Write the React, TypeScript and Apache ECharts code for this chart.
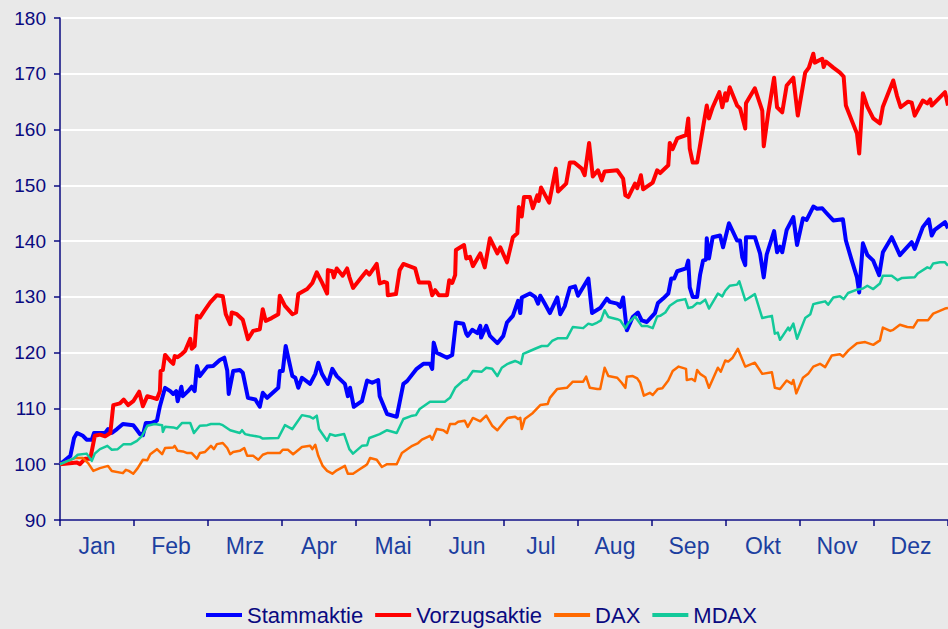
import React, { useEffect, useRef } from "react";
import * as echarts from "echarts";

// x = time in months since start of year (0..12), y = indexed value (start = 100)
const months = ["Jan", "Feb", "Mrz", "Apr", "Mai", "Jun", "Jul", "Aug", "Sep", "Okt", "Nov", "Dez"];
const yTicks = { min: 90, max: 180, step: 10 };

const stammaktie: [number, number][] = [
  [0, 100], [0.14, 101.5], [0.19, 104.7], [0.23, 105.6], [0.31, 105.1], [0.36, 104.4], [0.43, 104.4], [0.46, 105.6],
  [0.61, 105.6], [0.65, 106.3], [0.7, 105.6], [0.77, 106.3], [0.85, 107.2], [0.99, 107], [1.03, 106.3], [1.08, 105.4],
  [1.12, 105.2], [1.16, 107.4], [1.24, 107.4], [1.31, 107.8], [1.35, 110.4], [1.42, 113.7], [1.49, 113.1], [1.53, 112.6],
  [1.57, 113.1], [1.59, 111.3], [1.64, 113.9], [1.66, 112.2], [1.73, 113.1], [1.78, 113.9], [1.82, 113.1], [1.85, 117.6],
  [1.89, 115.8], [1.99, 117.5], [2.07, 117.6], [2.16, 118.7], [2.22, 119.1], [2.26, 116.8], [2.28, 112.6], [2.34, 116.7],
  [2.43, 116.9], [2.47, 116.4], [2.54, 111.9], [2.64, 111.6], [2.7, 110.3], [2.74, 112.8], [2.8, 111.9], [2.95, 113.7],
  [2.97, 116.7], [3.01, 116.7], [3.05, 121.2], [3.14, 115.8], [3.18, 115.5], [3.22, 113.7], [3.27, 115.5], [3.38, 114.4],
  [3.45, 116.2], [3.49, 118.2], [3.54, 116.2], [3.62, 114.4], [3.68, 117.1], [3.74, 115.8], [3.85, 114.4], [3.89, 112.2],
  [3.92, 113.7], [3.97, 110.3], [4.08, 111.3], [4.15, 115], [4.22, 114.6], [4.3, 115.1], [4.32, 112.2], [4.42, 109],
  [4.55, 108.5], [4.64, 114.4], [4.69, 114.9], [4.82, 117.1], [4.91, 118], [5, 118], [5.03, 117.1], [5.05, 121.8],
  [5.09, 120], [5.23, 119.1], [5.3, 119.6], [5.35, 125.4], [5.45, 125.2], [5.49, 123.4], [5.51, 123], [5.57, 124.1],
  [5.64, 123.5], [5.68, 124.8], [5.69, 122.7], [5.76, 124.8], [5.81, 123], [5.91, 121.7], [5.99, 123], [6.04, 125.4],
  [6.12, 126.6], [6.19, 129.3], [6.22, 127.1], [6.24, 129.9], [6.35, 130.6], [6.42, 130], [6.46, 128.8], [6.49, 130.2],
  [6.55, 128.8], [6.62, 127.1], [6.72, 129.9], [6.76, 126.9], [6.82, 128.3], [6.89, 131.6], [6.96, 131.9], [7, 130.2],
  [7.14, 133.3], [7.19, 127.1], [7.3, 128], [7.39, 129.7], [7.43, 129.1], [7.53, 128.8], [7.57, 128.2], [7.61, 129.9],
  [7.66, 124], [7.74, 126.4], [7.81, 127.2], [7.86, 125.8], [7.93, 125.5], [8.04, 127.1], [8.08, 128.9], [8.15, 129.7],
  [8.22, 130.6], [8.26, 133.3], [8.3, 133.3], [8.34, 134.6], [8.46, 135.1], [8.49, 136.5], [8.51, 131.7], [8.55, 130],
  [8.61, 130], [8.65, 134], [8.69, 136.5], [8.73, 136.7], [8.74, 140.5], [8.77, 136.9], [8.82, 140.7], [8.92, 141],
  [8.96, 138.9], [9.04, 143.2], [9.15, 140.1], [9.19, 140.1], [9.22, 137.1], [9.26, 135.7], [9.27, 140.7], [9.39, 140.7],
  [9.46, 137.8], [9.51, 133.5], [9.55, 137.6], [9.65, 141.8], [9.69, 138], [9.73, 139], [9.76, 138], [9.82, 142],
  [9.91, 144.3], [9.96, 139.3], [10.04, 144.1], [10.09, 143.8], [10.18, 146.2], [10.23, 145.8], [10.3, 145.9], [10.36, 145],
  [10.45, 143.7], [10.58, 143.9], [10.62, 140.1], [10.7, 136.5], [10.77, 133.5], [10.8, 130.8], [10.85, 139.6], [10.91, 137.5],
  [10.99, 136.5], [11.07, 133.9], [11.12, 138], [11.24, 140.7], [11.35, 137.5], [11.42, 138.5], [11.51, 139.8], [11.55, 138.6],
  [11.66, 142.5], [11.74, 143.9], [11.78, 141], [11.82, 142], [11.96, 143.4], [12, 142.3],
];

const vorzugsaktie: [number, number][] = [
  [0, 100], [0.23, 100.3], [0.27, 100], [0.34, 101], [0.41, 101], [0.47, 105.1], [0.54, 105.3], [0.61, 105],
  [0.68, 105.6], [0.72, 110.6], [0.81, 110.9], [0.86, 111.6], [0.92, 110.6], [0.99, 111.3], [1.07, 113], [1.12, 110.4],
  [1.18, 112.2], [1.26, 111.9], [1.31, 111.7], [1.35, 113.1], [1.36, 116.7], [1.39, 116.9], [1.42, 119.6], [1.49, 118.5],
  [1.53, 118], [1.55, 119.4], [1.59, 119.2], [1.65, 119.8], [1.69, 120.3], [1.76, 122.5], [1.78, 120.7], [1.82, 121.2],
  [1.85, 126.6], [1.89, 126.3], [1.95, 127.5], [2.03, 129], [2.12, 130.3], [2.2, 130.1], [2.24, 126.9], [2.3, 125.1],
  [2.32, 127.2], [2.39, 126.9], [2.47, 125.9], [2.54, 122.4], [2.61, 123.9], [2.7, 124.2], [2.74, 127.8], [2.78, 125.7],
  [2.86, 126.2], [2.95, 126.9], [2.97, 130.2], [3.04, 128.4], [3.14, 126.9], [3.19, 127.2], [3.22, 130.5], [3.34, 131.4],
  [3.41, 132.5], [3.47, 134.4], [3.54, 132.6], [3.61, 130.6], [3.62, 134.8], [3.68, 134.6], [3.7, 133.5], [3.74, 135.1],
  [3.82, 133.8], [3.88, 135.1], [3.91, 133.6], [3.96, 131.6], [4.08, 133.6], [4.14, 134.6], [4.18, 134], [4.28, 135.9],
  [4.32, 132.4], [4.38, 132.7], [4.42, 132.5], [4.43, 130.3], [4.54, 130.5], [4.59, 134.8], [4.64, 135.9], [4.72, 135.5],
  [4.8, 135.1], [4.85, 132.6], [4.99, 132.6], [5.03, 130.3], [5.07, 131.2], [5.12, 130.3], [5.23, 130.3], [5.26, 133],
  [5.3, 132.5], [5.34, 133.9], [5.35, 138.4], [5.46, 139.3], [5.49, 136.9], [5.54, 137.2], [5.58, 135.5], [5.68, 137.8],
  [5.74, 135.3], [5.81, 140.5], [5.91, 137.8], [5.95, 138.9], [6.04, 136.2], [6.12, 140.7], [6.18, 141.4], [6.2, 146.1],
  [6.24, 144.4], [6.27, 147.9], [6.35, 147.9], [6.39, 145.9], [6.45, 148.2], [6.47, 147.2], [6.5, 149.6], [6.61, 146.9],
  [6.7, 153], [6.73, 148.9], [6.84, 150.3], [6.89, 154.1], [6.95, 154.1], [7.05, 153], [7.09, 151.8], [7.15, 157.6],
  [7.2, 151.6], [7.27, 152.7], [7.32, 150.9], [7.36, 152.5], [7.53, 152.7], [7.61, 151.2], [7.64, 148.2], [7.68, 147.9],
  [7.77, 150.3], [7.8, 149.5], [7.85, 151.8], [7.88, 149.3], [8.01, 150.5], [8.07, 152.7], [8.11, 152.2], [8.22, 153.6],
  [8.24, 157.6], [8.28, 156.5], [8.34, 158.4], [8.46, 159], [8.49, 162], [8.51, 156.6], [8.55, 154.1], [8.61, 154.1],
  [8.69, 160.4], [8.74, 164.3], [8.77, 162], [8.82, 164], [8.91, 166.7], [8.95, 164], [8.99, 166.5], [9.01, 165.2],
  [9.05, 167.6], [9.15, 164.3], [9.19, 163.8], [9.26, 160.2], [9.27, 164.7], [9.39, 167.4], [9.49, 163.4], [9.51, 157],
  [9.57, 162.9], [9.65, 169.3], [9.69, 164], [9.76, 163.1], [9.82, 167.9], [9.91, 169.3], [9.97, 162.5], [10.07, 170.2],
  [10.12, 171.1], [10.18, 173.6], [10.2, 172], [10.3, 172.7], [10.32, 171.2], [10.35, 172.2], [10.45, 171.1], [10.54, 170.2],
  [10.59, 169.5], [10.62, 164.3], [10.7, 161.6], [10.77, 159.3], [10.8, 155.7], [10.85, 166.5], [10.91, 164.1], [10.99, 162],
  [11.08, 161.1], [11.12, 164.1], [11.26, 168.8], [11.31, 166.1], [11.36, 164], [11.46, 165], [11.51, 164.8], [11.55, 162.5],
  [11.66, 165.2], [11.72, 164.7], [11.76, 165.4], [11.78, 164.3], [11.96, 166.7], [12, 164.3],
];

const dax: [number, number][] = [
  [0, 100], [0.09, 100.5], [0.2, 101.1], [0.31, 101.1], [0.38, 100.2], [0.45, 98.8], [0.54, 99.3], [0.65, 99.7],
  [0.7, 98.8], [0.85, 98.4], [0.89, 99], [0.93, 98.8], [0.99, 98.3], [1.05, 99.3], [1.12, 100.8], [1.18, 100.7],
  [1.22, 101.8], [1.31, 102.7], [1.38, 101.8], [1.42, 102.9], [1.53, 103], [1.55, 103.3], [1.59, 102.4], [1.66, 102.3],
  [1.72, 102], [1.78, 102], [1.85, 101], [1.89, 102], [1.96, 102.2], [2.04, 103.3], [2.08, 102.7], [2.12, 103.6],
  [2.2, 103.8], [2.26, 102.9], [2.3, 101.8], [2.34, 102.2], [2.43, 102.4], [2.49, 102.9], [2.53, 101.5], [2.61, 101.5],
  [2.68, 100.8], [2.74, 101.7], [2.8, 102], [2.97, 102], [3.01, 102.6], [3.08, 102.6], [3.15, 101.8], [3.27, 103.1],
  [3.38, 103.3], [3.41, 102.7], [3.45, 103.5], [3.49, 101.5], [3.55, 99.7], [3.61, 98.8], [3.68, 98.3], [3.74, 98.9],
  [3.85, 99.7], [3.89, 98.3], [3.96, 98.3], [4.05, 99.1], [4.12, 99.7], [4.15, 100], [4.19, 101.1], [4.28, 100.8],
  [4.35, 99.5], [4.42, 100], [4.55, 100], [4.62, 102], [4.76, 103.3], [4.84, 103.8], [4.89, 104.4], [5, 105.1],
  [5.03, 104.4], [5.09, 106.3], [5.18, 106.1], [5.23, 105.6], [5.27, 107.2], [5.34, 107.2], [5.38, 107.6], [5.47, 107.8],
  [5.51, 106.7], [5.58, 108.3], [5.68, 107.7], [5.76, 108.7], [5.84, 106.9], [5.91, 106.1], [5.99, 107.4], [6.05, 108.3],
  [6.15, 108.5], [6.19, 108.1], [6.22, 108.3], [6.24, 106.3], [6.28, 108.1], [6.39, 109.2], [6.49, 110.6], [6.59, 110.8],
  [6.62, 111.9], [6.72, 113.5], [6.85, 113.7], [6.93, 114.8], [7.07, 114.8], [7.11, 115.7], [7.16, 113.7], [7.26, 113.5],
  [7.3, 113.5], [7.36, 117.3], [7.41, 115.8], [7.53, 115.5], [7.59, 114.6], [7.64, 113.7], [7.66, 115.7], [7.74, 115.8],
  [7.8, 115.4], [7.84, 114.6], [7.89, 112.3], [7.97, 112.8], [8.01, 112.4], [8.08, 113.5], [8.14, 113.6], [8.22, 115],
  [8.28, 116.7], [8.36, 117.5], [8.46, 117.1], [8.47, 115.1], [8.54, 115.3], [8.58, 114.9], [8.61, 116.9], [8.65, 116.2],
  [8.72, 115.6], [8.77, 113.7], [8.89, 117.3], [8.93, 116.6], [8.99, 118.6], [9.03, 118.4], [9.09, 119.1], [9.16, 120.7],
  [9.26, 117.5], [9.39, 118.2], [9.49, 116.2], [9.62, 116.5], [9.66, 113.7], [9.73, 113.5], [9.82, 115], [9.89, 114.4],
  [9.91, 115.1], [9.95, 112.7], [10.04, 115.5], [10.11, 116.2], [10.18, 117.5], [10.27, 118], [10.34, 117.4], [10.43, 119.5],
  [10.54, 119.7], [10.58, 119.3], [10.66, 120.5], [10.77, 121.7], [10.88, 121.9], [10.99, 121.4], [11.08, 122.2], [11.12, 124.5],
  [11.22, 123.9], [11.26, 124.1], [11.35, 125], [11.45, 124.6], [11.53, 124.5], [11.59, 125.8], [11.73, 125.8], [11.8, 127],
  [11.96, 127.9], [12, 128],
];

const mdax: [number, number][] = [
  [0, 100], [0.09, 100.5], [0.18, 101], [0.24, 101.7], [0.36, 101.9], [0.43, 100.6], [0.47, 101.9], [0.54, 102.7],
  [0.64, 103.3], [0.7, 102.6], [0.78, 102.7], [0.86, 103.6], [0.96, 103.6], [1.04, 104.2], [1.11, 105.1], [1.18, 106.9],
  [1.28, 107.2], [1.38, 107], [1.39, 105.8], [1.42, 106.7], [1.53, 106.6], [1.58, 106.4], [1.65, 107.4], [1.76, 107.4],
  [1.81, 105.6], [1.89, 106.9], [1.99, 107], [2.04, 107.2], [2.16, 107.2], [2.2, 107], [2.3, 106.1], [2.43, 105.6],
  [2.46, 106.1], [2.5, 105.4], [2.57, 105.2], [2.7, 104.9], [2.74, 104.6], [2.95, 104.7], [3.04, 107], [3.14, 106.3],
  [3.27, 108.8], [3.38, 108.5], [3.42, 108.2], [3.47, 108.7], [3.5, 106.3], [3.61, 104.2], [3.65, 105.4], [3.72, 105.1],
  [3.84, 105.4], [3.91, 102.7], [3.96, 101.9], [4.08, 103.3], [4.15, 103.4], [4.18, 104.7], [4.32, 105.4], [4.42, 106.1],
  [4.55, 105.6], [4.64, 108.1], [4.76, 108.7], [4.81, 108.8], [4.86, 109.9], [5, 111.2], [5.2, 111.2], [5.27, 111.9],
  [5.34, 113.7], [5.45, 115], [5.5, 115.2], [5.58, 116.7], [5.7, 116.6], [5.76, 117.3], [5.84, 117.1], [5.91, 115.8],
  [5.97, 117.3], [6.05, 118], [6.15, 118.5], [6.19, 118.3], [6.23, 118], [6.26, 119.8], [6.35, 120.3], [6.42, 120.7],
  [6.51, 121.2], [6.59, 121.2], [6.65, 122.1], [6.73, 122.6], [6.85, 122.6], [6.93, 124.6], [7.07, 124.4], [7.14, 125.2],
  [7.19, 125], [7.26, 125.4], [7.31, 125.8], [7.36, 127.6], [7.41, 126.4], [7.53, 126], [7.57, 125.8], [7.64, 124.4],
  [7.68, 125.3], [7.77, 126.5], [7.86, 124.8], [7.93, 124.8], [8.01, 124.4], [8.07, 126.5], [8.11, 126.6], [8.18, 127.2],
  [8.24, 128.4], [8.34, 129.3], [8.45, 129.6], [8.49, 128], [8.55, 128.2], [8.61, 128.9], [8.65, 128.8], [8.72, 129.5],
  [8.77, 127.9], [8.89, 130.6], [8.95, 130.1], [8.99, 131.1], [9.05, 132], [9.15, 132.2], [9.18, 132.8], [9.26, 129.4],
  [9.39, 130.5], [9.49, 126.2], [9.62, 126.6], [9.66, 123.4], [9.7, 123.6], [9.73, 122.3], [9.84, 124.5], [9.86, 124],
  [9.91, 125.2], [9.96, 122.5], [10.07, 126.2], [10.14, 126.9], [10.18, 128.7], [10.24, 128.9], [10.34, 129.2], [10.38, 128.6],
  [10.45, 129.9], [10.54, 130.1], [10.59, 129.6], [10.65, 130.7], [10.77, 131.3], [10.85, 131.5], [10.91, 132], [10.99, 131.4],
  [11.08, 132.4], [11.12, 133.8], [11.24, 133.8], [11.32, 133], [11.38, 133.4], [11.55, 133.5], [11.59, 134.2], [11.72, 135.3],
  [11.76, 135.1], [11.8, 136], [11.89, 136.2], [11.96, 136.2], [12, 135.6],
];

const NAVY = "#0A0A80";
const LABEL_BLUE = "#1C3FA0";
const FONT = "'Liberation Sans', Arial, sans-serif";

export default function App() {
  const ref = useRef<HTMLDivElement>(null);

  useEffect(() => {
    if (!ref.current) return;
    const chart = echarts.init(ref.current, null, { renderer: "svg" });
    const lineSeries = (name: string, data: [number, number][], color: string, width: number) => ({
      name,
      type: "line",
      data,
      xAxisIndex: 0,
      yAxisIndex: 0,
      showSymbol: false,
      symbol: "none",
      lineStyle: { color, width, join: "round" },
      itemStyle: { color },
      emphasis: { disabled: true },
    });
    chart.setOption({
      animation: false,
      backgroundColor: "#E9E9E9",
      textStyle: { fontFamily: FONT },
      grid: { left: 60, right: 0, top: 18, bottom: 109, containLabel: false },
      legend: {
        left: 206,
        top: 603,
        padding: 0,
        icon: "rect",
        itemWidth: 36,
        itemHeight: 4,
        itemGap: 12,
        textStyle: { color: NAVY, fontSize: 22, lineHeight: 24, fontFamily: FONT },
        data: ["Stammaktie", "Vorzugsaktie", "DAX", "MDAX"],
      },
      xAxis: [
        { type: "value", min: 0, max: 12, show: false },
        {
          type: "category",
          data: months,
          boundaryGap: true,
          position: "bottom",
          axisLine: { show: true, lineStyle: { color: NAVY, width: 1.5 } },
          axisTick: { show: true, alignWithLabel: false, length: 6, lineStyle: { color: NAVY, width: 1.5 } },
          axisLabel: { color: LABEL_BLUE, fontSize: 23, margin: 14, fontFamily: FONT },
          splitLine: { show: false },
        },
      ],
      yAxis: {
        type: "value",
        min: yTicks.min,
        max: yTicks.max,
        interval: yTicks.step,
        axisLine: { show: true, lineStyle: { color: NAVY, width: 1.5 } },
        axisTick: { show: true, length: 6, lineStyle: { color: NAVY, width: 1.5 } },
        axisLabel: { color: NAVY, fontSize: 19, margin: 14, fontFamily: FONT },
        splitLine: { show: true, lineStyle: { color: "#FFFFFF", width: 2 } },
      },
      series: [
        lineSeries("Stammaktie", stammaktie, "#0000FF", 4),
        lineSeries("Vorzugsaktie", vorzugsaktie, "#FF0000", 4),
        lineSeries("DAX", dax, "#FF6A00", 2.5),
        lineSeries("MDAX", mdax, "#13C99A", 2.5),
      ],
    });
    return () => chart.dispose();
  }, []);

  return (
    <div
      ref={ref}
      style={{ position: "fixed", left: 0, top: 0, width: 948, height: 629 }}
    />
  );
}
